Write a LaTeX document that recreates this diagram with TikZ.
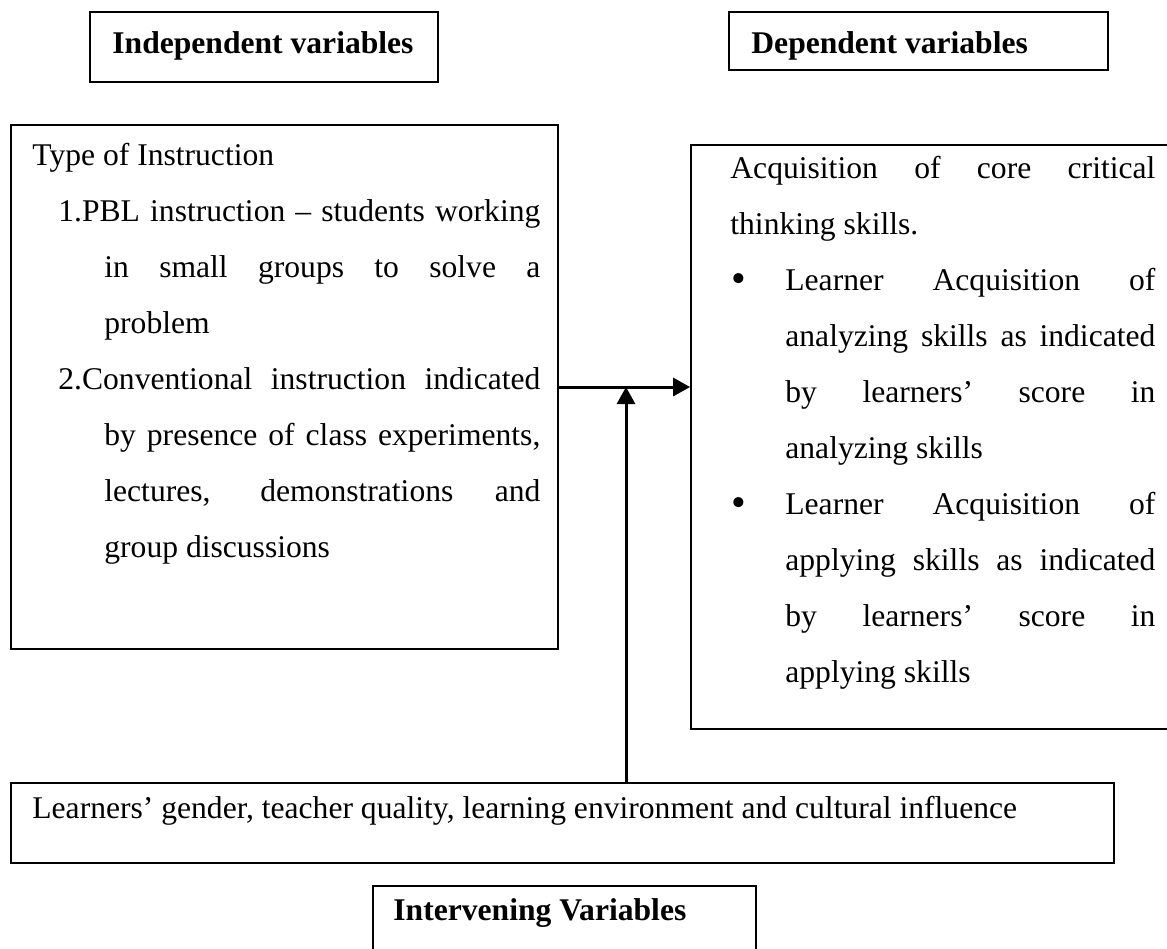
\documentclass[tikz,border=0pt]{standalone}
\usepackage{fontspec}
\setmainfont{Liberation Serif}
\usetikzlibrary{arrows.meta}
\tikzset{
  box/.style={draw, line width=0.9pt, inner sep=0pt, rectangle},
  txt/.style={inner sep=0pt, anchor=base west, font=\fontsize{15.8}{28}\selectfont},
  conn/.style={line width=1.5pt, -{Triangle[length=8.5pt,width=9pt]}}
}
\newcommand{\bulletmark}{\makebox[27.5pt][l]{\hspace*{0.5pt}\raisebox{-1pt}{\fontsize{21}{21}\selectfont •}}}
\begin{document}
\begin{tikzpicture}[x=0.5pt,y=-0.5pt]
\useasboundingbox (0,0) rectangle (1167,948);
% boxes
\node[box, minimum width=174pt, minimum height=35pt] (indep) at (264,47) {};
\node[box, minimum width=189.5pt, minimum height=29pt] (dep) at (918.5,41) {};
\node[box, minimum width=273.5pt, minimum height=262pt] (left) at (284.5,387) {};
\node[box, minimum width=244.5pt, minimum height=292pt] (right) at (935.5,437) {};
\node[box, minimum width=551.5pt, minimum height=40pt] (bottom) at (562.5,823) {};
\node[box, minimum width=191.5pt, minimum height=33pt] (interv) at (564.5,919) {};
% headings
\node[txt, font=\fontsize{15.8}{28}\selectfont\bfseries] (indeptxt) at (112,53) {Independent variables};
\node[txt, font=\fontsize{15.8}{28}\selectfont\bfseries] (deptxt) at (751,53) {Dependent variables};
\node[txt, font=\fontsize{15.8}{28}\selectfont\bfseries] (intervtxt) at (393,920) {Intervening Variables};
% left box text
\node[txt] (lefttxt) at (32,165) {\parbox[t]{260pt}{\fontsize{15.8}{28}\selectfont\parindent=0pt
Type of Instruction\\
\hspace*{13pt}\makebox[241pt][s]{1.PBL instruction – students working}\\
\hspace*{36pt}\makebox[218pt][s]{in small groups to solve a}\\
\hspace*{36pt}problem\\
\hspace*{13pt}\makebox[241pt][s]{2.Conventional instruction indicated}\\
\hspace*{36pt}\makebox[218pt][s]{by presence of class experiments,}\\
\hspace*{36pt}\makebox[218pt][s]{lectures, demonstrations and}\\
\hspace*{36pt}group discussions}};
% right box text
\node[txt] (righttxt) at (730,178) {\parbox[t]{215pt}{\fontsize{15.8}{28}\selectfont\parindent=0pt
\makebox[212.5pt][s]{Acquisition of core critical}\\
thinking skills.\\
\bulletmark\makebox[185pt][s]{Learner Acquisition of}\\
\hspace*{27.5pt}\makebox[185pt][s]{analyzing skills as indicated}\\
\hspace*{27.5pt}\makebox[185pt][s]{by learners’ score in}\\
\hspace*{27.5pt}analyzing skills\\
\bulletmark\makebox[185pt][s]{Learner Acquisition of}\\
\hspace*{27.5pt}\makebox[185pt][s]{applying skills as indicated}\\
\hspace*{27.5pt}\makebox[185pt][s]{by learners’ score in}\\
\hspace*{27.5pt}applying skills}};
% bottom text
\node[txt] (bottomtxt) at (32,818) {Learners’ gender, teacher quality, learning environment and cultural influence};
% connectors
\coordinate (joint) at (626,387);
\draw[conn] (left.east |- joint) -- (right.west |- joint);
\draw[conn] (bottom.north -| joint) -- (joint);
\end{tikzpicture}
\end{document}
